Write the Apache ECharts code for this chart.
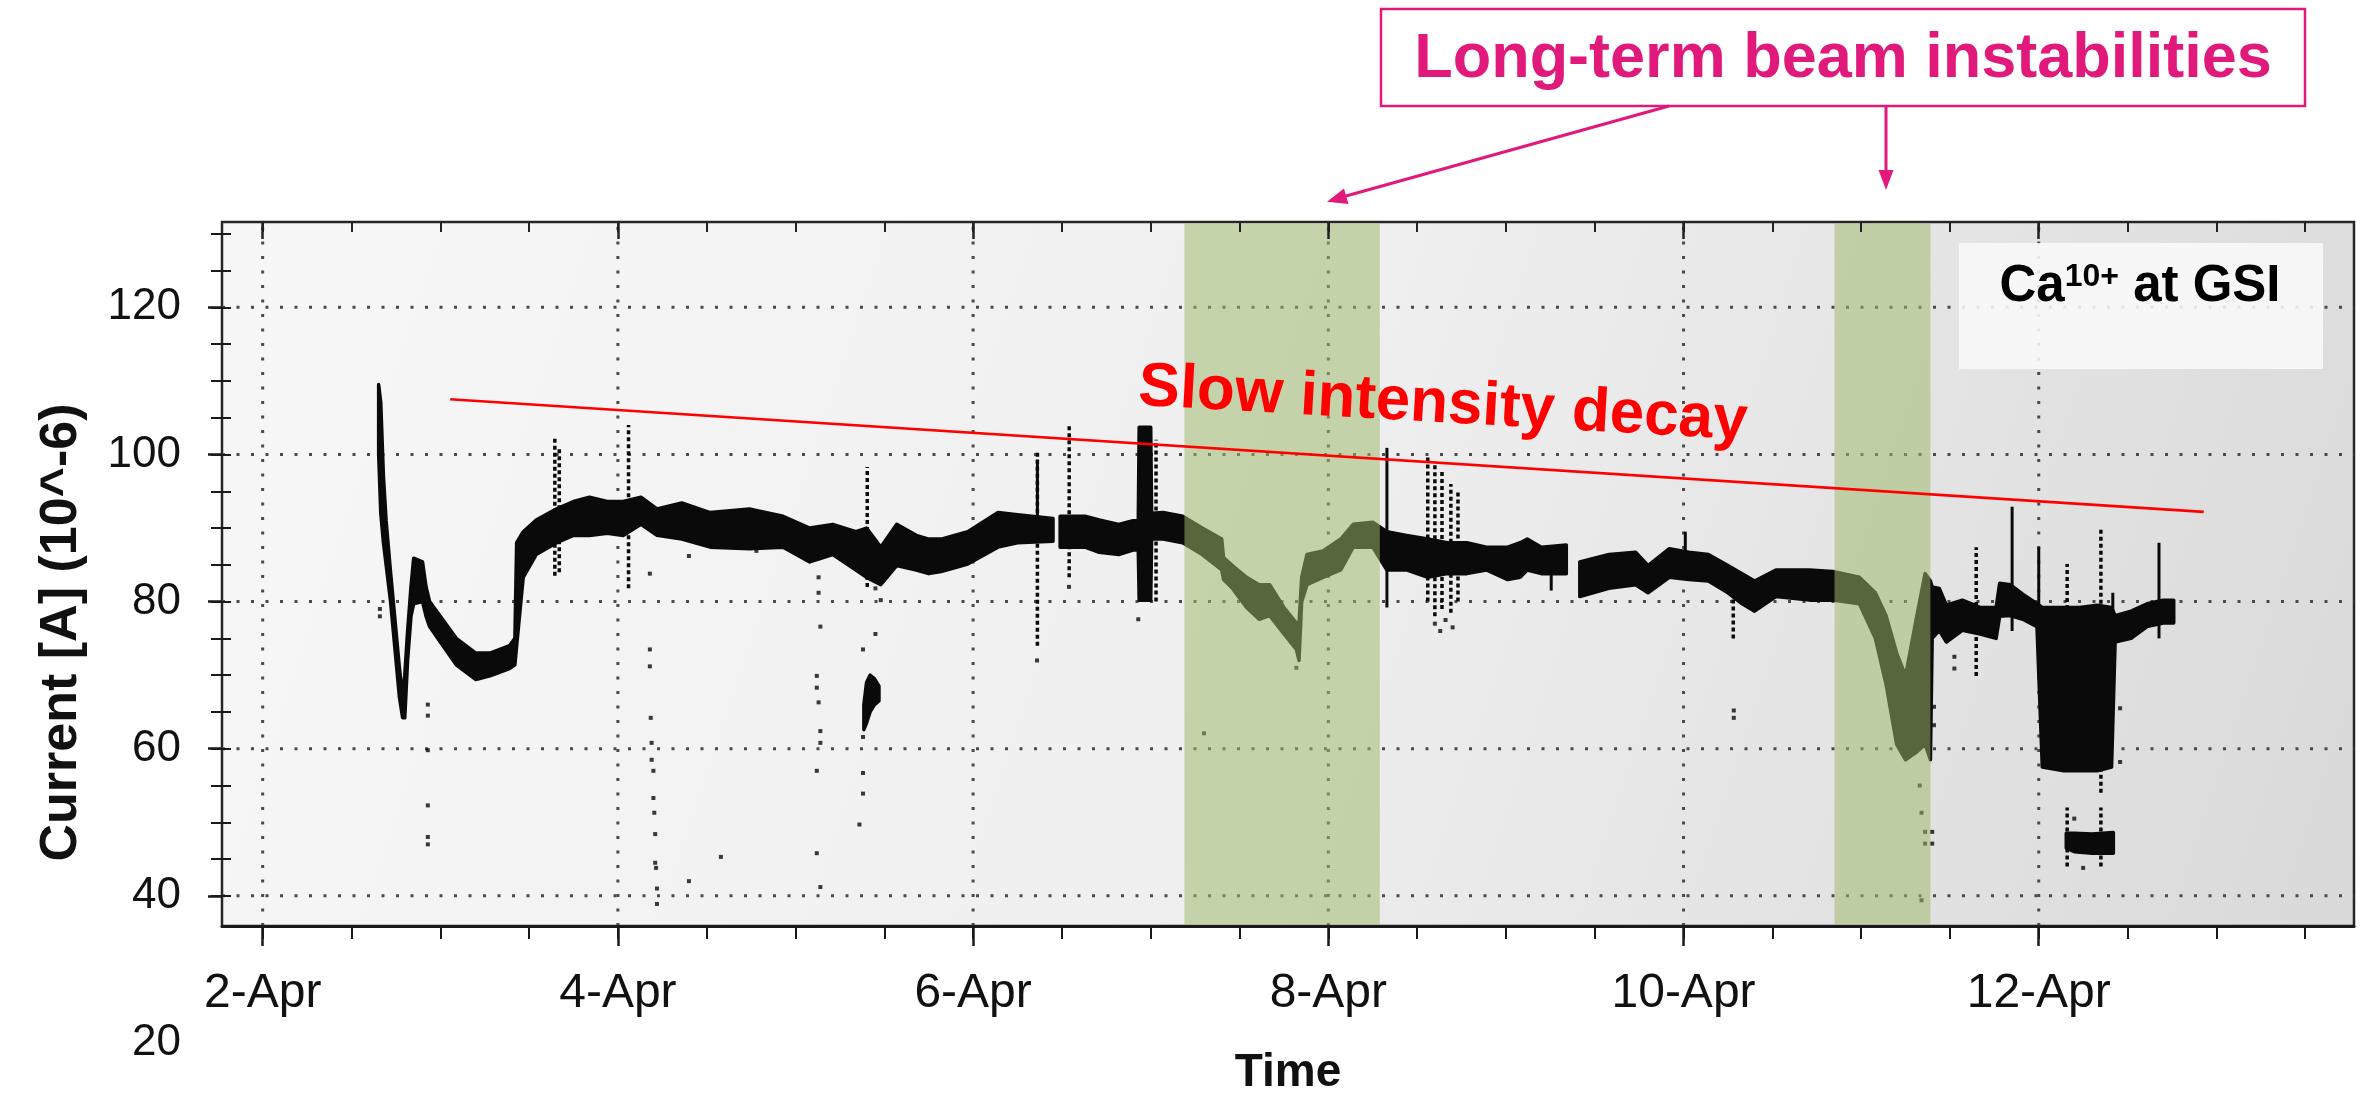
<!DOCTYPE html>
<html>
<head>
<meta charset="utf-8">
<script src="https://cdn.jsdelivr.net/npm/echarts@6/dist/echarts.min.js"></script>
<style>
html,body{margin:0;padding:0;background:#fff;}
#chart{width:2372px;height:1102px;}
</style>
</head>
<body>
<div id="chart"></div>
<script>
// ---------------- DATA ----------------
// Time axis in days of April
const majorDays = [2, 4, 6, 8, 10, 12];
const dayLabels = ['2-Apr', '4-Apr', '6-Apr', '8-Apr', '10-Apr', '12-Apr'];
const halfDays = [2, 2.5, 3, 3.5, 4, 4.5, 5, 5.5, 6, 6.5, 7, 7.5, 8, 8.5, 9, 9.5, 10, 10.5, 11, 11.5, 12, 12.5, 13, 13.5];
const yLabelValues = [20, 40, 60, 80, 100, 120];
const yLabelTexts = ['20', '40', '60', '80', '100', '120'];
const yMajorTicks = [40, 60, 80, 100, 120];
const yMinorTicks = [40, 45, 50, 55, 60, 65, 70, 75, 80, 85, 90, 95, 100, 105, 110, 115, 120, 125, 130];

// Main beam-current band: lower / upper envelope (null = gap in data)
const bandDays = [2.653, 2.665, 2.68, 2.695, 2.72, 2.745, 2.77, 2.788, 2.80, 2.816, 2.835, 2.85, 2.90, 2.92, 2.94, 3.0, 3.09, 3.2, 3.28, 3.39, 3.42, 3.43, 3.467, 3.54, 3.655, 3.75, 3.84, 3.94, 4.03, 4.13, 4.22, 4.36, 4.52, 4.74, 4.93, 5.08, 5.21, 5.34, 5.40, 5.48, 5.57, 5.68, 5.75, 5.82, 5.97, 6.14, 6.25, 6.45, null,
  6.49, 6.63, 6.71, 6.82, 6.90, 6.93, 6.935, 7.0, 7.005, 7.07, 7.18, 7.29, 7.40, 7.41, 7.46, 7.54, 7.61, 7.67, 7.75, 7.82, 7.835, 7.85, 7.88, 7.97, 8.07, 8.14, 8.25, 8.33, 8.44, 8.56, 8.67, 8.78, 8.89, 9.01, 9.08, 9.12, 9.2, 9.34, null,
  9.416, 9.58, 9.73, 9.80, 9.92, 10.03, 10.14, 10.25, 10.33, 10.40, 10.52, 10.71, 10.84, 10.99, 11.08, 11.14, 11.2, 11.25, 11.31, 11.36, 11.39, 11.40, 11.44, 11.48, 11.57, 11.67, 11.76, 11.78, 11.84, 11.91, 11.99, 12.02, 12.14, 12.23, 12.33, 12.41, 12.43, 12.52, 12.61, 12.70, 12.76];
const bandLow = [100, 92, 88, 85, 80, 73.5, 67, 64.2, 64.2, 72, 78, 79.7, 80, 78, 76.6, 74.5, 71.4, 69.4, 69.9, 70.9, 71.4, 74, 83.3, 86.4, 88, 89, 89, 89.3, 89, 90.5, 89, 88.5, 87.4, 87.2, 87.4, 85.4, 86.4, 84.3, 83.3, 82.3, 84.9, 84.3, 83.8, 84.1, 85.1, 87.4, 88, 88.2, null,
  87.4, 87.4, 86.7, 86.4, 87, 87, 80.2, 80.2, 88.5, 88.5, 88, 86.4, 84.3, 83, 81.8, 79.2, 77.6, 78.1, 75.6, 73.5, 72, 80, 82.3, 83.3, 84.3, 87.4, 87.4, 84.3, 84.3, 83.3, 83.8, 83.8, 84.3, 83, 83.3, 84.3, 83.8, 83.8, null,
  80.7, 81.8, 82.3, 81.2, 83.3, 83, 82.8, 81.2, 79.7, 78.7, 80.7, 80.2, 80.2, 79.7, 75, 68.8, 60.6, 58.5, 59.5, 60.6, 58.5, 75, 76.1, 74.5, 76.1, 75.6, 75, 78, 78.1, 77.6, 76.6, 57.5, 57, 57, 57, 57.5, 74.5, 75, 76.6, 77.1, 77.1];
const bandHigh = [109.5, 107, 97, 91, 84, 77.5, 71, 67, 70, 76, 82, 85.9, 85.4, 82, 80, 78, 75, 73, 73, 74, 75, 88, 89.5, 91.1, 92.6, 93.6, 94.2, 93.6, 93.6, 94.2, 92.6, 93.4, 92.1, 92.6, 91.6, 90, 90.5, 89.5, 90, 87.4, 90.5, 89, 88.5, 88.5, 89.5, 92.1, 91.8, 91.3, null,
  91.6, 91.6, 91.1, 90.5, 91, 91, 103.7, 103.7, 92, 92.1, 91.6, 90, 88.5, 86, 84.9, 83.3, 82.3, 82.3, 79.2, 77.1, 77, 83.3, 86.4, 86.9, 88.5, 90.5, 90.8, 89.5, 89, 88.5, 88, 88, 87.4, 87.4, 88, 88.5, 87.4, 87.7, null,
  85.4, 86.4, 86.7, 84.9, 87.2, 86.7, 86.4, 84.9, 83.8, 82.8, 84.3, 84.3, 84.1, 83.3, 81.2, 78.1, 73, 69.9, 77.6, 83.8, 82.8, 82, 81.8, 79.5, 80.2, 79.2, 79.2, 82.5, 82.3, 81, 79.7, 79.2, 79.2, 79.2, 79.5, 79.2, 78.1, 78.7, 79.7, 80.2, 80.2];

// Small separate patches of data
const blobDays = [5.385, 5.40, 5.42, 5.445, 5.47];
const blobLow = [62.6, 63.5, 65, 66, 66.5];
const blobHigh = [66, 69, 70, 69.5, 68.5];
const lowBlockDays = [12.155, 12.2, 12.3, 12.42];
const lowBlockLow = [46.5, 46, 45.8, 45.8];
const lowBlockHigh = [48.5, 48.5, 48.4, 48.6];

// Vertical spikes: day, low, high, dotted(1)/solid(0)
const spikeDays = [3.645, 3.67, 4.06, 5.404, 6.362, 6.362, 6.541, 7.03, 8.33, 8.56, 8.60, 8.64, 8.69, 8.73, 9.255, 10.01, 10.28, 11.39, 11.648, 11.85, 12.0, 12.16, 12.35, 12.417, 12.677, 12.16, 12.35];
const spikeLow = [83.5, 84, 81.8, 82, 74, 88, 83.3, 80, 79.2, 80, 78, 79, 78.5, 80, 81.5, 86, 75, 58.5, 69.9, 76, 76, 79, 54, 78, 75, 44, 44];
const spikeHigh = [102.5, 101, 104, 98.3, 100.6, 99.3, 104.2, 102, 100.9, 99.8, 99, 98, 96, 95, 86, 89.5, 83, 82.8, 87.4, 92.9, 87.4, 85.1, 89.8, 81.2, 88, 52, 52];
const spikeDotted = [1, 1, 1, 1, 1, 0, 1, 1, 0, 1, 1, 1, 1, 1, 0, 0, 1, 0, 1, 0, 0, 1, 1, 0, 0, 1, 1];

// Isolated points
const dotDays = [2.66, 2.66, 2.93, 2.93, 2.93, 2.93, 2.93, 2.93, 4.18, 4.18, 4.18, 4.185, 4.19, 4.19, 4.20, 4.20, 4.205, 4.21, 4.21, 4.215, 4.22, 4.22, 4.40, 4.40, 4.58, 4.78, 5.13, 5.13, 5.13, 5.14, 5.12, 5.12, 5.13, 5.14, 5.14, 5.12, 5.12, 5.14, 5.38, 5.38, 5.38, 5.38, 5.36, 5.45, 5.45, 5.48, 6.36, 6.54, 6.93, 7.30, 7.82, 8.60, 8.63, 8.66, 8.70, 10.283, 10.283, 11.33, 11.34, 11.36, 11.36, 11.34, 11.40, 11.40, 11.41, 11.41, 11.525, 11.525, 12.458, 12.458, 12.25, 12.2];
const dotValues = [79, 78, 66, 64.5, 59.8, 52.3, 48, 47, 83.8, 73.5, 71.2, 64.2, 60.8, 58.5, 57, 53.3, 51.3, 48.4, 44.5, 43.8, 41, 38.9, 86.2, 42, 45.3, 86.9, 85.9, 83.3, 81.2, 76.6, 69.9, 68.3, 66.3, 62.4, 60.8, 57, 45.8, 41.2, 73.5, 61.6, 56.7, 53.9, 49.7, 81.8, 75.6, 80.2, 72, 82, 77.6, 62.1, 71, 77, 76, 77.5, 76.5, 65.2, 64.2, 55, 51.3, 48.7, 47.1, 39.4, 48.7, 47.1, 65.7, 63.2, 72.5, 70.9, 65.5, 58.2, 43.8, 50.5];

// "Slow intensity decay" trend line
const trendDays = [3.056, 12.929];
const trendValues = [107.5, 92.2];

// Shaded instability periods (start, end day)
const bandStart = [7.19, 10.85];
const bandEnd = [8.29, 11.39];

// ---------------- LAYOUT / STYLE ----------------
const X_MIN = 1.771, X_MAX = 13.775;
const Y_MIN = 20, Y_MAX = 131.6, FRAME_Y_MIN = 35.9;
const FONT = "'Liberation Sans', Arial, Helvetica, sans-serif";
const DATA_COLOR = '#0a0a0a';
const MAGENTA = '#e0197b';

function buildSegments(days, lo, hi) {
  const segs = []; let cur = [];
  for (let i = 0; i < days.length; i++) {
    if (days[i] === null) { if (cur.length) segs.push(cur); cur = []; continue; }
    cur.push([days[i], lo[i], hi[i]]);
  }
  if (cur.length) segs.push(cur);
  return segs;
}
const polySegments = buildSegments(bandDays, bandLow, bandHigh)
  .concat(buildSegments(blobDays, blobLow, blobHigh))
  .concat(buildSegments(lowBlockDays, lowBlockLow, lowBlockHigh));

const chart = echarts.init(document.getElementById('chart'), null, { renderer: 'canvas' });

const gridVDays = majorDays.slice();
const gridHValues = yMajorTicks.slice();

const option = {
  animation: false,
  backgroundColor: '#ffffff',
  grid: { left: 222, right: 18, top: 222, bottom: 59, outerBoundsMode: 'none' },
  xAxis: [
    {
      type: 'value', min: X_MIN, max: X_MAX, position: 'bottom', offset: -117, z: 6,
      axisLine: { show: true, lineStyle: { color: '#1a1a1a', width: 3 } },
      axisTick: { show: true, customValues: majorDays, length: 20, lineStyle: { color: '#1a1a1a', width: 2.5 } },
      axisLabel: { show: true, customValues: majorDays, formatter: v => dayLabels[majorDays.indexOf(v)], margin: 44, fontSize: 48, color: '#111', fontFamily: FONT },
      splitLine: { show: false },
      name: 'Time', nameLocation: 'middle', nameGap: 124,
      nameTextStyle: { fontSize: 46, fontWeight: 'bold', color: '#111', fontFamily: FONT }
    },
    {
      type: 'value', min: X_MIN, max: X_MAX, position: 'bottom', offset: -117, z: 6,
      axisLine: { show: false },
      axisTick: { show: true, customValues: halfDays, length: 13, lineStyle: { color: '#1a1a1a', width: 2 } },
      axisLabel: { show: false }, splitLine: { show: false }
    },
    {
      type: 'value', min: X_MIN, max: X_MAX, position: 'top', z: 6,
      axisLine: { show: false },
      axisTick: { show: true, inside: true, customValues: halfDays, length: 10, lineStyle: { color: '#222', width: 2 } },
      axisLabel: { show: false }, splitLine: { show: false }
    },
    {
      type: 'value', min: X_MIN, max: X_MAX, position: 'top', z: 6,
      axisLine: { show: false },
      axisTick: { show: true, inside: true, customValues: majorDays, length: 17, lineStyle: { color: '#222', width: 2.5 } },
      axisLabel: { show: false }, splitLine: { show: false }
    }
  ],
  yAxis: [
    {
      type: 'value', min: Y_MIN, max: Y_MAX, position: 'left', z: 6,
      axisLine: { show: false },
      axisTick: { show: true, customValues: yMajorTicks, length: 14, lineStyle: { color: '#1a1a1a', width: 2.5 } },
      axisLabel: { show: true, customValues: yLabelValues, formatter: v => yLabelTexts[yLabelValues.indexOf(v)], margin: 41, fontSize: 44, color: '#111', fontFamily: FONT },
      splitLine: { show: false },
      name: 'Current [A] (10^-6)', nameLocation: 'middle', nameGap: 134,
      nameTextStyle: { fontSize: 52, fontWeight: 'bold', color: '#111', fontFamily: FONT }
    },
    {
      type: 'value', min: Y_MIN, max: Y_MAX, position: 'left', z: 6,
      axisLine: { show: false },
      axisTick: { show: true, customValues: yMinorTicks, length: 11, lineStyle: { color: '#1a1a1a', width: 2 } },
      axisLabel: { show: false }, splitLine: { show: false }
    },
    {
      type: 'value', min: Y_MIN, max: Y_MAX, position: 'left', z: 6,
      axisLine: { show: false },
      axisTick: { show: true, inside: true, customValues: yMinorTicks, length: 9, lineStyle: { color: '#1a1a1a', width: 2 } },
      axisLabel: { show: false }, splitLine: { show: false }
    }
  ],
  series: [
    { // plot frame and background
      type: 'custom', z: 0, silent: true,
      data: [[X_MIN, Y_MAX]],
      renderItem: function (params, api) {
        const p0 = api.coord([X_MIN, Y_MAX]);
        const p1 = api.coord([X_MAX, FRAME_Y_MIN]);
        return {
          type: 'rect',
          shape: { x: p0[0], y: p0[1], width: p1[0] - p0[0], height: p1[1] - p0[1] },
          style: {
            fill: new echarts.graphic.LinearGradient(0, 0, 1, 1, [
              { offset: 0, color: '#f7f7f7' }, { offset: 0.5, color: '#efefef' }, { offset: 1, color: '#d9d9d9' }
            ]),
            stroke: '#262626', lineWidth: 2.5
          }
        };
      }
    },
    { // dotted vertical grid lines
      type: 'custom', z: 1, silent: true,
      data: gridVDays.map(d => [d, FRAME_Y_MIN]),
      renderItem: function (params, api) {
        const d = gridVDays[params.dataIndex];
        const a = api.coord([d, FRAME_Y_MIN]), b = api.coord([d, Y_MAX]);
        return { type: 'line', shape: { x1: a[0], y1: a[1], x2: b[0], y2: b[1] }, style: { stroke: '#4a4a4a', lineWidth: 3, lineDash: [3, 11.5] } };
      }
    },
    { // dotted horizontal grid lines
      type: 'custom', z: 1, silent: true,
      data: gridHValues.map(v => [X_MIN, v]),
      renderItem: function (params, api) {
        const v = gridHValues[params.dataIndex];
        const a = api.coord([X_MIN, v]), b = api.coord([X_MAX, v]);
        return { type: 'line', shape: { x1: a[0], y1: a[1], x2: b[0], y2: b[1] }, style: { stroke: '#4a4a4a', lineWidth: 3, lineDash: [3, 11.5] } };
      }
    },
    { // main current band
      name: 'Current', type: 'custom', z: 2, silent: true,
      data: polySegments.map(s => [s[0][0], s[0][1]]),
      renderItem: function (params, api) {
        const seg = polySegments[params.dataIndex];
        const top = seg.map(p => api.coord([p[0], p[2]]));
        const bot = seg.slice().reverse().map(p => api.coord([p[0], p[1]]));
        return { type: 'polygon', shape: { points: top.concat(bot) }, style: { fill: DATA_COLOR, stroke: DATA_COLOR, lineWidth: 3.5, lineJoin: 'round' } };
      }
    },
    { // spikes
      type: 'custom', z: 2, silent: true,
      data: spikeDays.map((d, i) => [d, spikeLow[i]]),
      renderItem: function (params, api) {
        const i = params.dataIndex;
        const a = api.coord([spikeDays[i], spikeLow[i]]), b = api.coord([spikeDays[i], spikeHigh[i]]);
        const dotted = spikeDotted[i] === 1;
        return { type: 'line', shape: { x1: a[0], y1: a[1], x2: b[0], y2: b[1] },
          style: { stroke: DATA_COLOR, lineWidth: dotted ? 3.5 : 3, lineDash: dotted ? [4, 3] : null } };
      }
    },
    { // isolated points
      type: 'scatter', z: 2, silent: true, symbol: 'rect', symbolSize: 4,
      itemStyle: { color: DATA_COLOR },
      data: dotDays.map((d, i) => [d, dotValues[i]])
    },
    { // green shaded periods (drawn over the data)
      type: 'custom', z: 3, silent: true,
      data: bandStart.map((s, i) => [s, FRAME_Y_MIN]),
      renderItem: function (params, api) {
        const i = params.dataIndex;
        const p0 = api.coord([bandStart[i], Y_MAX]), p1 = api.coord([bandEnd[i], FRAME_Y_MIN]);
        return { type: 'rect', shape: { x: p0[0], y: p0[1] + 1.5, width: p1[0] - p0[0], height: p1[1] - p0[1] - 3 },
          style: { fill: 'rgba(159,186,109,0.53)' } };
      }
    },
    { // slow intensity decay trend line
      type: 'line', z: 5, silent: true, showSymbol: false, symbol: 'none',
      lineStyle: { color: '#ff0000', width: 2.6 },
      data: trendDays.map((d, i) => [d, trendValues[i]])
    }
  ],
  graphic: [
    { type: 'rect', z: 100, shape: { x: 1959, y: 243, width: 364, height: 126 }, style: { fill: 'rgba(249,249,249,0.88)' } },
    { type: 'text', z: 101, x: 2140, y: 287,
      style: { text: '{a|Ca}{s|10+}{a| at GSI}', align: 'center', verticalAlign: 'middle',
        rich: { a: { fontSize: 51, fontWeight: 'bold', fill: '#000', fontFamily: FONT },
                s: { fontSize: 32, fontWeight: 'bold', fill: '#000', fontFamily: FONT, verticalAlign: 'top' } } } },
    { type: 'text', z: 101, x: 1443, y: 405, rotation: -0.057,
      style: { text: 'Slow intensity decay', align: 'center', verticalAlign: 'middle', fontSize: 62, fontWeight: 'bold', fill: '#ff0000', fontFamily: FONT } },
    { type: 'rect', z: 100, shape: { x: 1381, y: 9, width: 924, height: 97 }, style: { fill: '#ffffff', stroke: MAGENTA, lineWidth: 2.5 } },
    { type: 'text', z: 101, x: 1843, y: 60,
      style: { text: 'Long-term beam instabilities', align: 'center', verticalAlign: 'middle', fontSize: 63, fontWeight: 'bold', fill: MAGENTA, fontFamily: FONT } },
    { type: 'line', z: 100, shape: { x1: 1669, y1: 106, x2: 1346, y2: 196 }, style: { stroke: MAGENTA, lineWidth: 3 } },
    { type: 'polygon', z: 100, shape: { points: [[1327, 201.7], [1344, 188.6], [1348.5, 204]] }, style: { fill: MAGENTA } },
    { type: 'line', z: 100, shape: { x1: 1886, y1: 106, x2: 1886, y2: 172 }, style: { stroke: MAGENTA, lineWidth: 3 } },
    { type: 'polygon', z: 100, shape: { points: [[1886, 190], [1878.5, 170], [1893.5, 170]] }, style: { fill: MAGENTA } }
  ]
};
chart.setOption(option);
</script>
</body>
</html>
